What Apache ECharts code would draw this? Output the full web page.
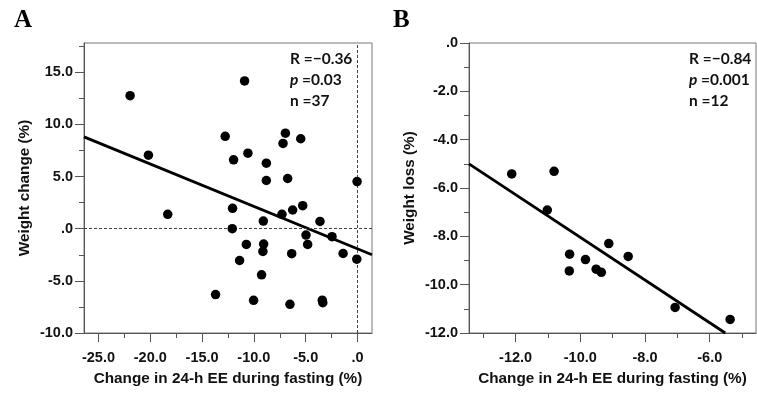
<!DOCTYPE html>
<html><head><meta charset="utf-8">
<script src="https://cdn.jsdelivr.net/npm/echarts@6/dist/echarts.min.js"></script>
<style>html,body{margin:0;padding:0;background:#fff}#c{width:757px;height:394px}</style>
</head><body><div id="c"></div>
<script>
// Panel A data: change in 24-h EE during fasting (%) vs weight change (%)
const aX = [-21.95,-10.9,-20.18,-12.77,-11.96,-10.58,-8.8,-8.8,-6.96,-7.19,-5.48,-6.74,-0.04,
            -18.32,-12.06,-12.09,-9.09,-7.29,-6.26,-5.29,-3.62,-4.97,-2.46,-10.73,-9.06,-9.13,
            -4.81,-6.35,-1.39,-0.07,-11.38,-9.26,-13.7,-10.03,-6.52,-3.4,-3.35];
const aY = [12.75,14.16,7.05,8.85,6.6,7.24,6.28,4.62,9.16,8.17,8.62,4.81,4.52,
            1.38,1.95,0.0,0.73,1.38,1.79,2.21,0.7,-0.61,-0.77,-1.51,-1.48,-2.18,
            -1.51,-2.4,-2.38,-2.92,-3.05,-4.42,-6.32,-6.87,-7.25,-6.85,-7.1];
const aFitX = [-26.4, 1.4];
const aFitY = [8.8, -2.5];
// Panel B data: change in 24-h EE during fasting (%) vs weight loss (%)
const bX = [-12.12,-10.81,-11.02,-9.12,-10.33,-8.52,-9.84,-10.34,-9.51,-9.35,-7.07,-5.37];
const bY = [-5.42,-5.31,-6.91,-8.3,-8.74,-8.83,-8.96,-9.43,-9.36,-9.49,-10.94,-11.44];
const bFitX = [-13.44, -5.52];
const bFitY = [-5.0, -12.0];
// Ticks
const aXMajor = [-25,-20,-15,-10,-5,0];
const aXMinor = [-22.5,-17.5,-12.5,-7.5,-2.5];
const aYMajor = [-10,-5,0,5,10,15];
const aYMinor = [-7.5,-2.5,2.5,7.5,12.5,17.5];
const bXMajor = [-12,-10,-8,-6];
const bXMinor = [-13,-11,-9,-7,-5];
const bYMajor = [0,-2,-4,-6,-8,-10,-12];
const bYMinor = [-1,-3,-5,-7,-9,-11];
const xTitle = 'Change in 24-h EE during fasting (%)';
const aYTitle = 'Weight change (%)';
const bYTitle = 'Weight loss (%)';
const aStats = ['R =\u22120.36', 'p', '=0.03', 'n =37'];
const bStats = ['R =\u22120.84', 'p', '=0.001', 'n =12'];

const fmt = v => (v === 0 ? '.0' : v.toFixed(1));
const axisCol = '#555';
const lblStyle = {fontFamily:'Liberation Sans, Arial, sans-serif', fontWeight:'bold', fontSize:14.5, color:'#111'};
const nameStyle = {fontFamily:'Liberation Sans, Arial, sans-serif', fontWeight:'bold', fontSize:15.3, color:'#111'};

function mainAxis(grid, min, max, major, isY, name, gap) {
  return {
    type:'value', gridIndex:grid, min:min, max:max,
    position: isY ? 'left' : 'bottom',
    name:name, nameLocation:'middle', nameGap:gap, nameTextStyle:nameStyle,
    axisLine:{show:true, onZero:false, lineStyle:{color:axisCol, width:1}},
    axisTick:{show:true, customValues:major, length:9, lineStyle:{color:axisCol}},
    axisLabel:Object.assign({show:true, customValues:major, formatter:fmt, margin: isY ? 11 : 17}, lblStyle),
    splitLine:{show:false}
  };
}
function minorAxis(grid, min, max, minor, isY) {
  return {
    type:'value', gridIndex:grid, min:min, max:max,
    position: isY ? 'left' : 'bottom',
    axisLine:{show:false, onZero:false},
    axisTick:{show:true, customValues:minor, length:5, lineStyle:{color:axisCol}},
    axisLabel:{show:false},
    splitLine:{show:false}
  };
}
const zip = (xs, ys) => xs.map((x,i) => [x, ys[i]]);

const chart = echarts.init(document.getElementById('c'), null, {renderer:'canvas'});
chart.setOption({
  animation:false,
  backgroundColor:'#fff',
  grid:[
    {left:84, top:43, width:288, height:290, show:true, borderColor:'#777', borderWidth:1, backgroundColor:'transparent'},
    {left:469, top:43, width:287, height:290, show:true, borderColor:'#777', borderWidth:1, backgroundColor:'transparent'}
  ],
  xAxis:[
    mainAxis(0, -26.4, 1.4, aXMajor, false, xTitle, 38),
    minorAxis(0, -26.4, 1.4, aXMinor, false),
    mainAxis(1, -13.44, -4.57, bXMajor, false, xTitle, 38),
    minorAxis(1, -13.44, -4.57, bXMinor, false)
  ],
  yAxis:[
    mainAxis(0, -10, 17.8, aYMajor, true, aYTitle, 52),
    minorAxis(0, -10, 17.8, aYMinor, true),
    mainAxis(1, -12, 0, bYMajor, true, bYTitle, 52),
    minorAxis(1, -12, 0, bYMinor, true)
  ],
  series:[
    {type:'scatter', xAxisIndex:0, yAxisIndex:0, data:zip(aX,aY), symbolSize:9.5,
     itemStyle:{color:'#000', opacity:1}, z:5,
     markLine:{silent:true, symbol:['none','none'], label:{show:false},
       lineStyle:{type:[3,2], color:'#444', width:1},
       data:[{xAxis:0},{yAxis:0}]}},
    {type:'line', xAxisIndex:0, yAxisIndex:0, data:zip(aFitX,aFitY), showSymbol:false, symbol:'none',
     lineStyle:{color:'#000', width:2.8}, z:4},
    {type:'scatter', xAxisIndex:2, yAxisIndex:2, data:zip(bX,bY), symbolSize:9.5,
     itemStyle:{color:'#000', opacity:1}, z:5},
    {type:'line', xAxisIndex:2, yAxisIndex:2, data:zip(bFitX,bFitY), showSymbol:false, symbol:'none',
     lineStyle:{color:'#000', width:2.8}, z:4}
  ],
  graphic:[
    {type:'text', left:14, top:8, style:{text:'A', font:'bold 25px "Liberation Serif", "Times New Roman", serif', fill:'#000'}},
    {type:'text', left:393, top:8, style:{text:'B', font:'bold 25px "Liberation Serif", "Times New Roman", serif', fill:'#000'}},
    {type:'text', left:290, top:51, style:{
      text:'{t|'+aStats[0]+'}\n{i|'+aStats[1]+'}{t| '+aStats[2]+'}\n{t|'+aStats[3]+'}',
      rich:{t:{font:'bold 15.5px Lato, "Open Sans", sans-serif', fill:'#111', lineHeight:21},
            i:{font:'italic bold 15.5px Lato, "Open Sans", sans-serif', fill:'#111', lineHeight:21}}}},
    {type:'text', left:689, top:51, style:{
      text:'{t|'+bStats[0]+'}\n{i|'+bStats[1]+'}{t| '+bStats[2]+'}\n{t|'+bStats[3]+'}',
      rich:{t:{font:'bold 15.5px Lato, "Open Sans", sans-serif', fill:'#111', lineHeight:21},
            i:{font:'italic bold 15.5px Lato, "Open Sans", sans-serif', fill:'#111', lineHeight:21}}}}
  ]
});
</script></body></html>
